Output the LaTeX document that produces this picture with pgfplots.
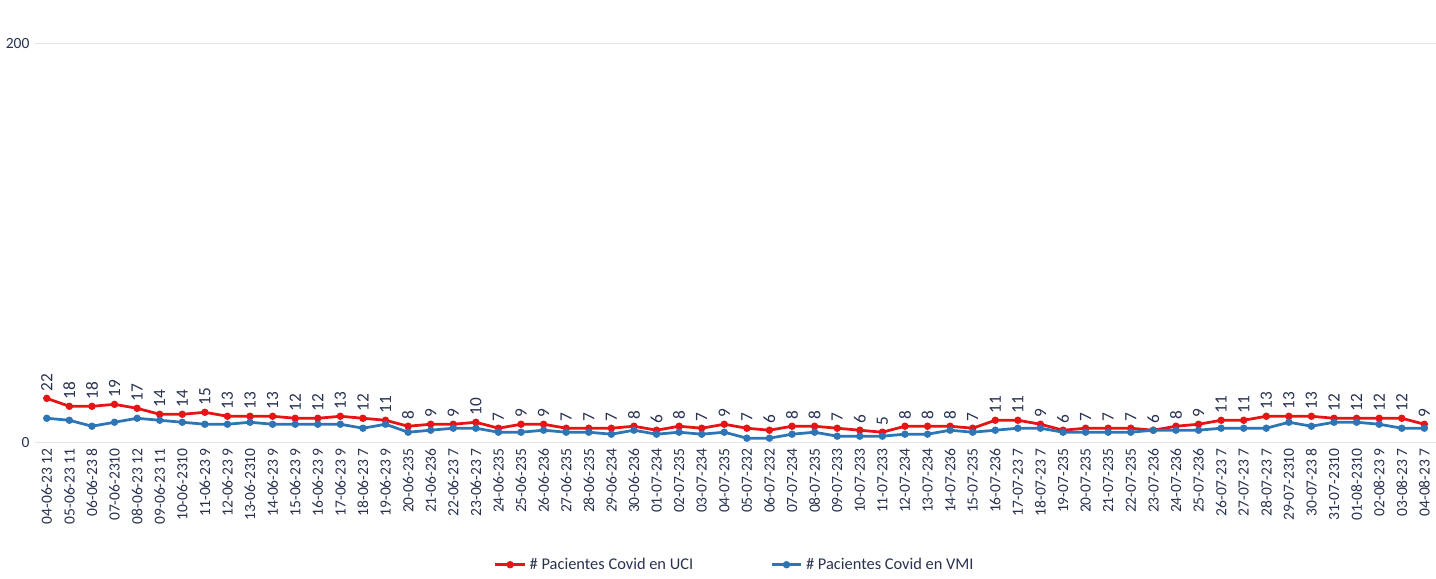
\documentclass[border=0pt]{standalone}
\usepackage{pgfplots}
\pgfplotsset{compat=1.18}
\usepackage{fontspec}
\setmainfont{Carlito}
\definecolor{ucired}{RGB}{230,20,20}
\definecolor{vmiblue}{RGB}{46,117,182}
\definecolor{txt}{RGB}{40,50,80}
\begin{document}
\begin{tikzpicture}
\begin{axis}[
  scale only axis, width=28.5cm, height=9.0cm,
  xmin=-0.5, xmax=61.5, ymin=0, ymax=222,
  axis line style={draw=none}, axis x line*=bottom,
  ytick={0,200}, ymajorgrids, grid style={gray!20},
  major tick length=0pt,
  xtick={0,...,61},
  xticklabels={04-06-23 12,05-06-23 11,06-06-23 8,07-06-2310,08-06-23 12,09-06-23 11,10-06-2310,11-06-23 9,12-06-23 9,13-06-2310,14-06-23 9,15-06-23 9,16-06-23 9,17-06-23 9,18-06-23 7,19-06-23 9,20-06-235,21-06-236,22-06-23 7,23-06-23 7,24-06-235,25-06-235,26-06-236,27-06-235,28-06-235,29-06-234,30-06-236,01-07-234,02-07-235,03-07-234,04-07-235,05-07-232,06-07-232,07-07-234,08-07-235,09-07-233,10-07-233,11-07-233,12-07-234,13-07-234,14-07-236,15-07-235,16-07-236,17-07-23 7,18-07-23 7,19-07-235,20-07-235,21-07-235,22-07-235,23-07-236,24-07-236,25-07-236,26-07-23 7,27-07-23 7,28-07-23 7,29-07-2310,30-07-23 8,31-07-2310,01-08-2310,02-08-23 9,03-08-23 7,04-08-23 7},
  x tick label style={rotate=90, anchor=east, font=\fontsize{9}{10}\selectfont, text=txt},
  y tick label style={font=\fontsize{9}{10}\selectfont, text=txt},
  /pgf/number format/assume math mode=true,
  xtick pos=bottom,
  legend style={at={(0.5,-0.245)}, anchor=north, draw=none, fill=none, font=\fontsize{9.5}{11}\selectfont, text=txt, /tikz/every even column/.append style={column sep=1.5cm}},
  legend columns=2,
]
\addplot[ucired, line width=1.6pt, mark=*, mark size=1.3pt,
  nodes near coords, every node near coord/.append style={rotate=90, anchor=west, font=\fontsize{10}{11}\selectfont, text=txt, xshift=0pt}]
  table[x expr=\coordindex, y index=0] {
22
18
18
19
17
14
14
15
13
13
13
12
12
13
12
11
8
9
9
10
7
9
9
7
7
7
8
6
8
7
9
7
6
8
8
7
6
5
8
8
8
7
11
11
9
6
7
7
7
6
8
9
11
11
13
13
13
12
12
12
12
9
};
\addlegendentry{\# Pacientes Covid en UCI}
\addplot[vmiblue, line width=1.6pt, mark=*, mark size=1.3pt]
  table[x expr=\coordindex, y index=0] {
12
11
8
10
12
11
10
9
9
10
9
9
9
9
7
9
5
6
7
7
5
5
6
5
5
4
6
4
5
4
5
2
2
4
5
3
3
3
4
4
6
5
6
7
7
5
5
5
5
6
6
6
7
7
7
10
8
10
10
9
7
7
};
\addlegendentry{\# Pacientes Covid en VMI}
\end{axis}
\end{tikzpicture}
\end{document}
